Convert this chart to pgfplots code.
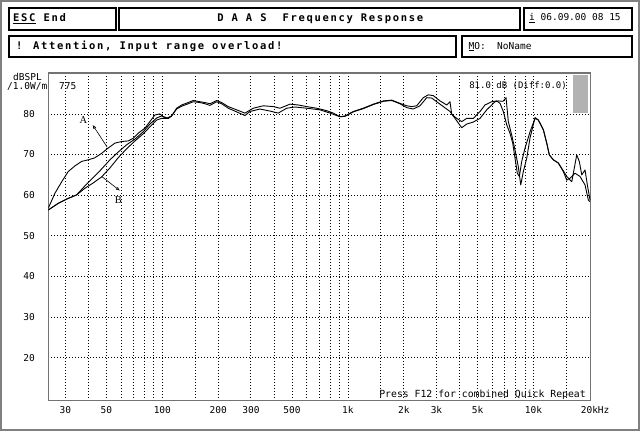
\documentclass[border=0pt]{standalone}
\usepackage{fontspec}
\usepackage{pgfplots}
\usepackage{pgfplotstable}
\pgfplotsset{compat=1.18}
\usetikzlibrary{arrows.meta}
\setmainfont{DejaVu Sans Mono}
\newfontfamily\hdrfont[LetterSpace=16]{DejaVu Sans Mono}
\newfontfamily\lbl{DejaVu Sans Mono}
\newfontfamily\serif{Liberation Serif}
\newcommand\hdr{\hdrfont\bfseries\fontsize{10.5bp}{12bp}\selectfont}
\newcommand\sm{\lbl\fontsize{9.5bp}{11bp}\selectfont}

% measured curves (Hz, dBSPL)
\pgfplotstableread{
f dB
24.3 56.8
26.4 60.5
28.7 63.3
31.1 65.8
33.8 67.2
36.7 68.3
39.9 68.7
43.3 69.2
47.1 70.3
51.1 71.6
55.5 72.8
60.3 73.2
65.5 73.35
69.7 74.0
74.1 75.25
80.6 76.5
85.7 78.1
91.2 79.75
97.1 80.0
101.1 79.3
105.5 78.9
112.2 79.5
119.4 81.4
127.1 82.2
137.9 82.8
146.7 83.3
159.5 83.0
169.7 82.8
180.5 82.5
196.2 83.3
208.7 82.8
226.6 81.8
251.4 81.0
278.7 80.2
309.0 81.4
349.8 82.0
396.1 81.8
430.3 81.4
487.2 82.4
540.0 82.2
599.5 81.8
678.7 81.4
768.4 80.8
833.7 80.2
906.2 79.3
964.1 79.5
1068.6 80.6
1209.4 81.4
1369.5 82.4
1550.4 83.2
1721.5 83.4
1907.6 82.6
2073.1 82.0
2205.9 81.8
2346.8 82.0
2547.5 84.0
2710.1 84.7
2884.0 84.5
3134 83.2
3406 82.2
3548 83.0
3624 79.9
3856 78.9
4102 78.1
4365 78.9
4737 78.9
5148 80.6
5476 82.2
5953 83.0
6334 83.2
6598 82.6
6874 80.6
7171 77.3
7470 75.2
7725 72.8
7948 69.1
8178 65.4
8384 64.6
8637 68.3
9000 71.6
9574 75.6
10188 78.9
10614 78.5
11293 76.1
11780 72.8
12166 69.9
12787 68.7
13603 67.9
14473 65.8
15098 63.7
15731 64.2
16735 65.4
17806 64.6
18946 62.5
19739 58.8
20160 58.4
}\curveA

\pgfplotstableread{
f dB
24.3 56.35
27.5 58.0
31.1 59.2
34.5 60.05
38.3 61.7
42.4 63.0
47.1 64.5
52.2 66.7
57.8 69.2
64.2 71.4
71.2 73.35
78.9 75.1
85.7 76.8
93.2 78.5
99.1 78.9
107.6 78.9
112.2 79.5
119.4 81.2
127.1 81.9
137.9 82.5
146.7 83.0
159.5 82.8
169.7 82.5
180.5 82.1
196.2 83.0
208.7 82.5
226.6 81.4
251.4 80.5
278.7 79.6
296.6 80.6
335.7 81.2
380.2 80.7
421.3 80.2
467.7 81.4
518.3 81.7
599.5 81.4
707.0 81.0
800.5 80.2
906.2 79.3
964.1 79.4
1068.6 80.5
1209.4 81.3
1369.5 82.3
1550.4 83.1
1721.5 83.3
1907.6 82.5
2073.1 81.55
2250 81.2
2445 82.0
2657 84.0
2828 83.9
3134 82.4
3548 80.6
3776 78.9
4102 76.6
4365 77.5
4737 78.0
5148 78.9
5595 81.0
6201 83.0
6460 83.2
6848 83.1
7111 84.0
7314 78.1
7629 74.8
7948 71.1
8280 67.0
8531 62.5
8810 65.8
9191 69.1
9574 74.1
10188 79.1
10614 78.5
11293 76.1
11780 72.8
12166 69.9
12787 68.7
13603 67.9
14473 66.0
15098 64.6
16068 63.3
17090 69.9
17655 68.25
18188 65.0
18946 66.2
19499 62.5
20160 58.8
}\curveB

\pgfplotstableread{
f dB
24.3 56.35
27.5 58.0
31.1 59.2
34.5 60.05
38.3 62.3
42.4 64.3
47.1 66.45
52.2 68.7
57.8 70.6
64.2 72.4
71.2 73.8
78.9 75.6
85.7 77.5
93.2 79.0
99.1 79.5
107.6 78.9
112.2 79.5
}\curveC

\begin{document}
\begin{tikzpicture}
\useasboundingbox (0,0) rectangle (640bp,431bp);
\fill[white] (0,0) rectangle (640bp,431bp);
\draw[black!50, line width=2bp] (1bp,1bp) rectangle (639bp,430bp);

\begin{axis}[
  at={(48.3bp,30.3bp)}, anchor=south west,
  scale only axis, width=542.3bp, height=327.4bp,
  xmode=log, xmin=24.3, xmax=20300, ymin=9.4, ymax=90,
  axis line style={draw=black!55, line width=1.6bp},
  xtick={30,50,100,200,300,500,1000,2000,3000,5000,10000,20000},
  xticklabels={30,50,100,200,300,500,1k,2k,3k,5k,10k,20k\rlap{Hz}},
  minor xtick={30,40,50,60,70,80,90,100,150,200,300,400,500,600,700,800,900,
    1000,1500,2000,3000,4000,5000,6000,7000,8000,9000,10000,15000},
  xminorgrids,
  ytick={20,30,40,50,60,70,80},
  yticklabels={20,30,40,50,60,70,80},
  ymajorgrids,
  major tick length=0, minor tick length=0,
  grid style={black, line width=0.8bp, dash pattern=on 0.8bp off 2.2bp},
  minor grid style={black, line width=0.8bp, dash pattern=on 0.8bp off 2.2bp},
  xticklabel style={font=\sm, anchor=north, inner sep=0pt, yshift=-5.8bp},
  yticklabel style={font=\sm, anchor=east, inner sep=0pt, xshift=-13.3bp},
]
\addplot[black, line width=0.9bp, line join=round, mark=none] table[x=f, y=dB] {\curveA};
\addplot[black, line width=0.9bp, line join=round, mark=none] table[x=f, y=dB] {\curveB};
\addplot[black, line width=0.9bp, line join=round, mark=none] table[x=f, y=dB] {\curveC};

\node[font=\serif\fontsize{10.5bp}{12bp}\selectfont] at (axis cs:37.6,78.6) {A};
\node[font=\serif\fontsize{10.5bp}{12bp}\selectfont] at (axis cs:57.9,58.7) {B};
\draw[-{Latex[open,length=4bp,width=3.5bp]}, line width=0.6bp]
  (axis cs:50.5,71.8) -- (axis cs:42.1,77.3);
\draw[-{Latex[open,length=4bp,width=3.5bp]}, line width=0.6bp]
  (axis cs:47.1,64.6) -- (axis cs:59.1,61.1);
\end{axis}

% header boxes
\begin{scope}[line width=2bp]
\draw (9bp,422.7bp) rectangle (115.7bp,401bp);
\draw (119bp,422.7bp) rectangle (520.3bp,401bp);
\draw (524.3bp,422.7bp) rectangle (631.7bp,401bp);
\draw (9bp,394.7bp) rectangle (456.3bp,373.7bp);
\draw (461.7bp,394.7bp) rectangle (631.7bp,373.7bp);
\end{scope}

\node[anchor=base west, inner sep=0pt, font=\hdr] at (13bp,409.3bp) {\underline{ESC} End};
\node[anchor=base, inner sep=0pt, font=\hdr] at (320.3bp,409.3bp) {D A A S~ Frequency Response};
\node[anchor=base west, inner sep=0pt, font=\sm] at (529bp,410.3bp) {\underline{i} 06.09.00 08 15};
\node[anchor=base west, inner sep=0pt, font=\hdr] at (16bp,381bp) {! Attention, Input range overload!};
\node[anchor=base west, inner sep=0pt, font=\sm] at (468.5bp,381.7bp) {\underline{M}O:};
\node[anchor=base west, inner sep=0pt, font=\sm] at (497bp,381.7bp) {NoName};

% texts inside and around the plot
\node[anchor=base west, inner sep=0pt, font=\sm] at (13bp,350.3bp) {dBSPL};
\node[anchor=base west, inner sep=0pt, font=\sm] at (7bp,341.7bp) {/1.0W/m};
\node[anchor=base west, inner sep=0pt, font=\sm] at (59bp,341.7bp) {775};
\node[anchor=base east, inner sep=0pt, font=\lbl\fontsize{9bp}{11bp}\selectfont] at (567bp,342bp) {81.0 dB (Diff:0.0)};
\node[anchor=base east, inner sep=0pt, font=\lbl\fontsize{9.8bp}{11bp}\selectfont] at (586bp,33.5bp) {Press F12 for combined Quick Repeat};
\fill[black!30] (573bp,318bp) rectangle (588bp,356bp);
\end{tikzpicture}
\end{document}
